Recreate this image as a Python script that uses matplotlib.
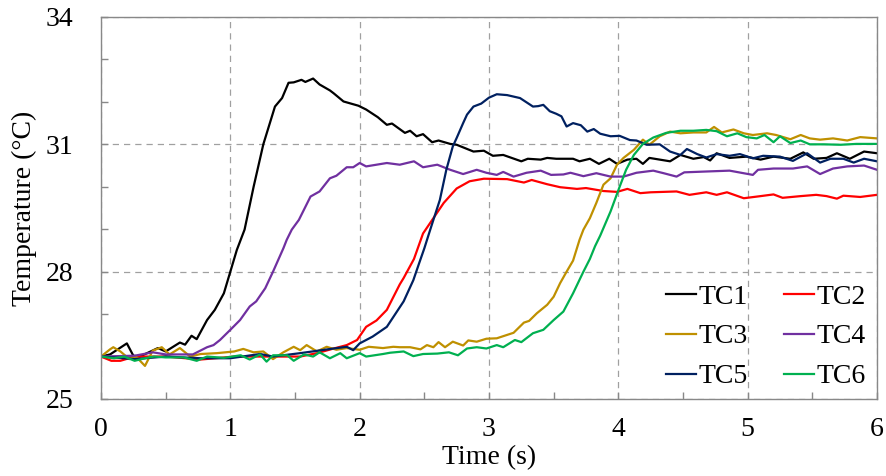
import matplotlib
matplotlib.use("Agg")
import matplotlib.pyplot as plt
from matplotlib.ticker import MultipleLocator, FixedLocator

# ---- data ----
tc1_t = [0, 0.07, 0.2, 0.25, 0.3, 0.44, 0.5, 0.61, 0.65, 0.7, 0.74, 0.82, 0.88, 0.95, 1.0, 1.05, 1.08, 1.11,
         1.18, 1.255, 1.345, 1.40, 1.45, 1.49, 1.55, 1.58, 1.64, 1.69, 1.77, 1.80, 1.875, 1.99, 2.05, 2.14,
         2.21, 2.25, 2.35, 2.39, 2.44, 2.49, 2.56, 2.61, 2.70, 2.75, 2.88, 2.96, 3.03, 3.11, 3.25, 3.30,
         3.40, 3.45, 3.52, 3.65, 3.70, 3.78, 3.85, 3.93, 3.99, 4.07, 4.14, 4.19, 4.24, 4.40, 4.48, 4.58,
         4.66, 4.71, 4.76, 4.86, 4.99, 5.10, 5.20, 5.33, 5.43, 5.51, 5.61, 5.69, 5.79, 5.90, 6.0]
tc1_T = [26.0, 26.05, 26.31, 26.02, 26.0, 26.2, 26.12, 26.33, 26.28, 26.49, 26.41, 26.86, 27.1, 27.49, 28.0,
         28.51, 28.75, 28.99, 30.0, 31.0, 31.89, 32.09, 32.45, 32.46, 32.52, 32.47, 32.55, 32.41, 32.27,
         32.2, 32.01, 31.91, 31.82, 31.64, 31.46, 31.49, 31.27, 31.32, 31.19, 31.24, 31.05, 31.09, 31.01,
         30.99, 30.83, 30.85, 30.73, 30.75, 30.6, 30.66, 30.64, 30.68, 30.66, 30.66, 30.6, 30.66, 30.54,
         30.66, 30.54, 30.64, 30.66, 30.54, 30.68, 30.6, 30.75, 30.66, 30.7, 30.62, 30.79, 30.68, 30.71,
         30.64, 30.71, 30.66, 30.81, 30.66, 30.68, 30.79, 30.66, 30.83, 30.79]

tc2_t = [0, 0.08, 0.15, 0.26, 0.5, 0.77, 1.03, 1.29, 1.54, 1.67, 1.8, 1.9, 1.98, 2.05, 2.13, 2.21, 2.31,
         2.34, 2.42, 2.49, 2.57, 2.65, 2.75, 2.85, 2.96, 3.14, 3.27, 3.33, 3.45, 3.55, 3.68, 3.75, 3.885,
         3.99, 4.07, 4.17, 4.25, 4.45, 4.55, 4.68, 4.76, 4.84, 4.97, 5.10, 5.2, 5.27, 5.41, 5.53, 5.61,
         5.69, 5.74, 5.87, 6.0]
tc2_T = [26.0, 25.9, 25.9, 26.0, 26.0, 25.93, 26.0, 26.0, 26.0, 26.08, 26.19, 26.27, 26.39, 26.7, 26.85,
         27.1, 27.7, 27.85, 28.3, 28.9, 29.26, 29.62, 29.96, 30.13, 30.19, 30.18, 30.1, 30.16, 30.06,
         29.99, 29.95, 29.97, 29.9, 29.88, 29.95, 29.85, 29.87, 29.89, 29.81, 29.87, 29.81, 29.87, 29.73,
         29.78, 29.82, 29.74, 29.78, 29.81, 29.78, 29.72, 29.79, 29.76, 29.81]

tc3_t = [0, 0.07, 0.095, 0.15, 0.22, 0.27, 0.34, 0.40, 0.47, 0.53, 0.61, 0.69, 0.77, 0.895, 1.03, 1.1,
         1.18, 1.255, 1.33, 1.41, 1.49, 1.54, 1.59, 1.67, 1.745, 1.82, 1.9, 2.0, 2.07, 2.18, 2.26, 2.31,
         2.39, 2.47, 2.52, 2.57, 2.61, 2.66, 2.72, 2.8, 2.84, 2.905, 2.98, 3.06, 3.19, 3.27, 3.31, 3.37,
         3.45, 3.5, 3.55, 3.6, 3.65, 3.70, 3.73, 3.78, 3.83, 3.885, 3.94, 3.99, 4.04, 4.12, 4.19, 4.24,
         4.32, 4.40, 4.48, 4.58, 4.68, 4.74, 4.8, 4.89, 4.97, 5.04, 5.15, 5.22, 5.33, 5.41, 5.48, 5.56,
         5.66, 5.77, 5.87, 6.0]
tc3_T = [26.0, 26.17, 26.22, 26.12, 25.94, 26.0, 25.78, 26.14, 26.22, 26.05, 26.2, 26.0, 26.06, 26.08,
         26.12, 26.18, 26.1, 26.12, 25.94, 26.1, 26.23, 26.15, 26.27, 26.12, 26.23, 26.16, 26.2, 26.16,
         26.23, 26.2, 26.23, 26.22, 26.22, 26.17, 26.27, 26.22, 26.34, 26.22, 26.35, 26.26, 26.38, 26.35,
         26.42, 26.43, 26.56, 26.8, 26.84, 27.02, 27.22, 27.41, 27.73, 28.0, 28.26, 28.75, 28.99, 29.26,
         29.62, 30.05, 30.2, 30.52, 30.68, 30.87, 31.11, 30.99, 31.19, 31.3, 31.26, 31.28, 31.28, 31.41,
         31.28, 31.35, 31.26, 31.22, 31.26, 31.22, 31.12, 31.22, 31.14, 31.11, 31.14, 31.09, 31.17, 31.14]

tc4_t = [0, 0.26, 0.40, 0.5, 0.64, 0.71, 0.82, 0.87, 0.92, 1.0, 1.075, 1.15, 1.2, 1.27, 1.33, 1.41, 1.436,
         1.475, 1.53, 1.62, 1.69, 1.77, 1.82, 1.90, 1.95, 2.0, 2.05, 2.13, 2.21, 2.31, 2.42, 2.49, 2.60,
         2.70, 2.80, 2.905, 2.98, 3.06, 3.11, 3.19, 3.29, 3.40, 3.48, 3.575, 3.63, 3.73, 3.83, 3.94, 4.04,
         4.14, 4.27, 4.35, 4.45, 4.51, 4.68, 4.86, 5.04, 5.08, 5.2, 5.35, 5.46, 5.56, 5.66, 5.77, 5.90, 6.0]
tc4_T = [26.0, 26.02, 26.1, 26.05, 26.05, 26.05, 26.22, 26.27, 26.39, 26.63, 26.86, 27.18, 27.3, 27.61,
         28.0, 28.55, 28.75, 28.99, 29.22, 29.77, 29.89, 30.2, 30.26, 30.46, 30.46, 30.56, 30.48, 30.52,
         30.56, 30.52, 30.6, 30.46, 30.52, 30.4, 30.3, 30.4, 30.33, 30.28, 30.35, 30.24, 30.33, 30.38,
         30.28, 30.29, 30.33, 30.25, 30.32, 30.24, 30.24, 30.33, 30.38, 30.32, 30.24, 30.34, 30.36, 30.38,
         30.28, 30.4, 30.43, 30.43, 30.48, 30.3, 30.43, 30.48, 30.5, 30.4]

tc5_t = [0, 0.26, 0.5, 0.77, 1.0, 1.23, 1.33, 1.54, 1.8, 1.9, 1.95, 2.0, 2.1, 2.21, 2.34, 2.415, 2.46,
         2.5, 2.53, 2.57, 2.62, 2.67, 2.72, 2.75, 2.80, 2.83, 2.88, 2.94, 3.0, 3.06, 3.14, 3.24, 3.30,
         3.34, 3.38, 3.42, 3.47, 3.52, 3.56, 3.6, 3.65, 3.71, 3.76, 3.81, 3.86, 3.94, 4.01, 4.09, 4.14,
         4.22, 4.32, 4.40, 4.48, 4.53, 4.61, 4.68, 4.76, 4.86, 4.94, 5.04, 5.12, 5.25, 5.35, 5.46, 5.56,
         5.64, 5.74, 5.82, 5.90, 6.0]
tc5_T = [26.0, 25.94, 26.0, 25.96, 25.96, 26.06, 26.0, 26.08, 26.19, 26.23, 26.15, 26.31, 26.47, 26.7,
         27.3, 27.8, 28.2, 28.55, 28.84, 29.22, 29.69, 30.4, 30.95, 31.15, 31.5, 31.7, 31.89, 31.96, 32.1,
         32.18, 32.16, 32.09, 31.97, 31.89, 31.9, 31.93, 31.78, 31.72, 31.66, 31.42, 31.5, 31.45, 31.3,
         31.36, 31.25, 31.19, 31.2, 31.1, 31.09, 30.99, 31.0, 30.83, 30.75, 30.89, 30.77, 30.69, 30.77,
         30.73, 30.77, 30.67, 30.73, 30.71, 30.61, 30.79, 30.57, 30.66, 30.66, 30.57, 30.66, 30.6]

tc6_t = [0, 0.1, 0.18, 0.26, 0.34, 0.41, 0.5, 0.64, 0.74, 0.82, 0.95, 1.08, 1.15, 1.23, 1.28, 1.33, 1.44,
         1.49, 1.57, 1.64, 1.69, 1.77, 1.85, 1.9, 2.0, 2.05, 2.18, 2.235, 2.34, 2.415, 2.49, 2.6, 2.69,
         2.76, 2.83, 2.905, 2.98, 3.06, 3.11, 3.2, 3.25, 3.34, 3.42, 3.5, 3.575, 3.65, 3.73, 3.78, 3.82,
         3.86, 3.94, 4.01, 4.06, 4.12, 4.19, 4.27, 4.37, 4.48, 4.58, 4.68, 4.76, 4.84, 4.92, 4.99, 5.07,
         5.13, 5.2, 5.25, 5.33, 5.41, 5.48, 5.59, 5.72, 5.84, 6.0]
tc6_T = [26.0, 25.96, 26.0, 25.9, 25.96, 26.0, 25.98, 25.98, 25.9, 26.0, 25.97, 26.03, 25.93, 26.05, 25.88,
         26.03, 26.03, 25.9, 26.05, 26.0, 26.1, 25.96, 26.08, 25.96, 26.08, 26.0, 26.06, 26.09, 26.12,
         26.01, 26.06, 26.07, 26.1, 26.03, 26.19, 26.22, 26.19, 26.27, 26.22, 26.39, 26.34, 26.55, 26.63,
         26.86, 27.06, 27.49, 28.0, 28.3, 28.6, 28.85, 29.42, 30.0, 30.4, 30.75, 31.01, 31.16, 31.27,
         31.32, 31.32, 31.34, 31.31, 31.19, 31.26, 31.17, 31.14, 31.22, 31.05, 31.19, 31.03, 31.09, 31.0,
         31.0, 30.99, 31.01, 31.01]

labels = ["TC1", "TC2", "TC3", "TC4", "TC5", "TC6"]
colors = ["#000000", "#FF0000", "#BF9000", "#7030A0", "#002060", "#00B050"]
x_ticks = [0, 1, 2, 3, 4, 5, 6]
y_ticks = [25, 28, 31, 34]

series = [(tc1_t, tc1_T), (tc2_t, tc2_T), (tc3_t, tc3_T), (tc4_t, tc4_T), (tc5_t, tc5_T), (tc6_t, tc6_T)]

plt.rcParams['font.family'] = ['Liberation Serif', 'DejaVu Serif']
FS = 20

fig = plt.figure(figsize=(8.86, 4.76), dpi=100)
ax = fig.add_axes([101/886, 1 - 399/476, (877-101)/886, (399-17)/476])

lines = []
for (t, T), lab, c in zip(series, labels, colors):
    ln, = ax.plot(t, T, color=c, lw=1.6, label=lab, solid_joinstyle='round')
    lines.append(ln)

ax.set_xlim(0, 6)
ax.set_ylim(25, 34)
ax.xaxis.set_major_locator(FixedLocator(x_ticks))
ax.yaxis.set_major_locator(FixedLocator(y_ticks))
ax.xaxis.set_minor_locator(MultipleLocator(0.5))
ax.yaxis.set_minor_locator(MultipleLocator(1))
ax.grid(True, which='major', color='#A0A0A0', linestyle=(0, (5, 4)), lw=0.9)
for s in ax.spines.values():
    s.set_color('#888888')
    s.set_linewidth(1.0)
ax.tick_params(which='both', direction='in', color='#888888', labelsize=FS, width=1.0)
ax.tick_params(which='major', length=5, pad=13)
ax.tick_params(which='minor', length=5)
ax.tick_params(axis='y', which='major', pad=20)

ax.set_xlabel("Time (s)", fontsize=FS, labelpad=2)
ax.set_ylabel("Temperature (°C)", fontsize=FS, labelpad=6)

# row-wise legend order: TC1 TC2 / TC3 TC4 / TC5 TC6
order = [0, 2, 4, 1, 3, 5]
leg = ax.legend([lines[i] for i in order], [labels[i] for i in order], ncol=2, loc='lower right',
                bbox_to_anchor=(0.998, 0.0), frameon=False, fontsize=FS,
                handlelength=1.08, handletextpad=0.1, columnspacing=1.3, labelspacing=0.52,
                borderaxespad=0.05, borderpad=0.3)

fig.savefig("out.png", dpi=100)
